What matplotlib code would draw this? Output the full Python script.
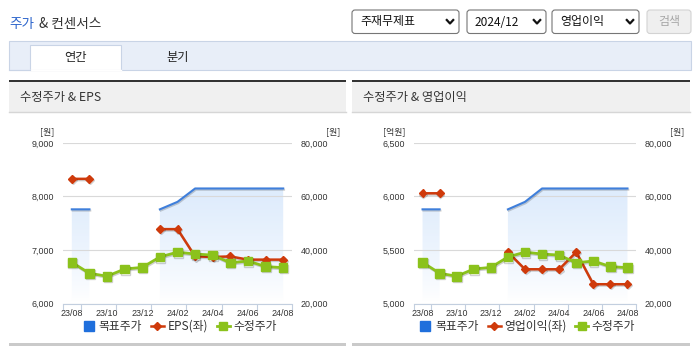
import numpy as np
import matplotlib
matplotlib.use('Agg')
import matplotlib.pyplot as plt
import matplotlib.patches as patches
import matplotlib.patheffects as pe
from matplotlib.lines import Line2D
from matplotlib.path import Path

plt.rcParams['font.family'] = ['Noto Sans CJK KR', 'DejaVu Sans']

# monthly data, 23/08 .. 24/08
months = ['23/08', '23/09', '23/10', '23/11', '23/12', '24/01', '24/02',
          '24/03', '24/04', '24/05', '24/06', '24/07', '24/08']
price = [35400, 31300, 30200, 32900, 33500, 37400, 39200,
         38500, 38100, 35200, 35900, 33800, 33400]
target = [55200, 55200, np.nan, np.nan, np.nan, 55200, 58000,
          63000, 63000, 63000, 63000, 63000, 63000]
eps = [8330, 8330, np.nan, np.nan, np.nan, 7390, 7390,
       6880, 6870, 6880, 6820, 6820, 6820]
op_profit = [6030, 6030, np.nan, np.nan, np.nan, 5480, 5320,
             5320, 5320, 5480, 5180, 5180, 5180]

eps_ticks = [6000, 7000, 8000, 9000]
op_ticks = [5000, 5500, 6000, 6500]
price_ticks = [20000, 40000, 60000, 80000]

BLUE = '#3F7FDB'
RED = '#CF3A0B'
GREEN = '#8BC21C'
NUM_FONT = 'Liberation Sans'

W, H = 695, 349
fig = plt.figure(figsize=(W / 100, H / 100), dpi=100)
bg = fig.add_axes([0, 0, 1, 1])
bg.set_xlim(0, W)
bg.set_ylim(H, 0)
bg.axis('off')


def box(x0, y0, x1, y1, fc, ec='none', lw=0, r=0):
    if r:
        p = patches.FancyBboxPatch((x0, y0), x1 - x0, y1 - y0,
                                   boxstyle='round,pad=0,rounding_size=%g' % r,
                                   fc=fc, ec=ec, lw=lw)
    else:
        p = patches.Rectangle((x0, y0), x1 - x0, y1 - y0, fc=fc, ec=ec, lw=lw)
    bg.add_patch(p)


# title
bg.text(9, 24, '주가', color='#2E66CC', fontsize=9.8, va='center')
bg.text(39, 24, '& 컨센서스', color='#333333', fontsize=9.8, va='center')

# selects + button
selects = [(352, 459, '주재무제표'), (467, 546, '2024/12'), (552, 639, '영업이익')]
for sx0, sx1, label in selects:
    box(sx0, 10, sx1, 33.5, 'white', '#767676', 0.8, r=3)
    bg.text(sx0 + 8, 22, label, fontsize=8.6, va='center', color='#111111')
    cx = sx1 - 9
    bg.plot([cx - 3.2, cx, cx + 3.2], [20, 23.5, 20], color='#111111', lw=1.6)
box(647, 10, 691, 33.5, '#EFEFEF', '#D3D3D3', 0.8, r=3)
bg.text(669, 22, '검색', fontsize=8.6, va='center', ha='center', color='#A6A6A6')

# tabs
box(9, 40.5, 691, 69.5, '#E8EEF8', '#C9D4E6', 0.8)
box(30, 45, 121, 69.5, 'white', '#C9D4E6', 0.8)
bg.plot([30.4, 120.6], [69.5, 69.5], color='white', lw=1)
bg.plot([9, 30], [69.5, 69.5], color='#C9D4E6', lw=0.8)
bg.text(75.5, 57.5, '연간', fontsize=8.8, ha='center', va='center', color='#222222')
bg.text(178, 57.5, '분기', fontsize=8.8, ha='center', va='center', color='#222222')


def chart(px0, px1, pan0, pan1, header, left_vals, left_ticks, left_name, left_unit):
    # panel frame
    box(pan0, 80, pan1, 82, '#333333')
    box(pan0, 82, pan1, 112, '#F0F0F0')
    bg.plot([pan0, pan1], [112.3, 112.3], color='#D6D6D6', lw=1)
    box(pan0, 343, pan1, 345.5, '#CACACA')
    bg.text(pan0 + 11, 97, header, fontsize=8.8, va='center', color='#333333')

    top, bot = 143, 303.5
    rect = [px0 / W, 1 - bot / H, (px1 - px0) / W, (bot - top) / H]
    x = np.arange(len(months))

    ax_t = fig.add_axes(rect)
    ax_e = ax_t.twinx()
    ax_p = ax_t.twinx()
    for a, z in ((ax_t, 1), (ax_e, 2), (ax_p, 3)):
        a.set_zorder(z)
        a.patch.set_visible(False)
        for s in a.spines.values():
            s.set_visible(False)
    ax_t.spines['bottom'].set_visible(True)
    ax_t.spines['bottom'].set_color('#C3CFDF')

    # target price: gradient area + line
    poly = ax_t.fill_between(x, target, 20000, facecolor='none', edgecolor='none')
    yy = np.linspace(20000, 80000, 300)
    alpha = np.clip((yy - 21000) / (60000 - 21000), 0, 1) ** 0.8 * 0.95
    grad = np.zeros((300, 2, 4))
    grad[..., 0] = 0.87
    grad[..., 1] = 0.925
    grad[..., 2] = 0.99
    grad[..., 3] = alpha[:, None]
    im = ax_t.imshow(grad, extent=[-0.5, 12.5, 20000, 80000], origin='lower',
                     aspect='auto', zorder=1, interpolation='bilinear')
    clip = patches.PathPatch(Path.make_compound_path(*poly.get_paths()),
                             transform=ax_t.transData, fc='none', ec='none')
    im.set_clip_path(clip)
    shadow = [pe.SimpleLineShadow(offset=(0.6, -0.9), alpha=0.18, shadow_color='k'), pe.Normal()]
    ax_t.plot(x, target, color=BLUE, lw=1.5, zorder=3, path_effects=shadow)

    ax_e.plot(x, left_vals, color=RED, lw=1.8, marker='D', ms=4.0, path_effects=shadow)
    ax_p.plot(x, price, color=GREEN, lw=2.0, marker='s', ms=6.2, path_effects=shadow)

    for a in (ax_t, ax_p):
        a.set_ylim(20000, 80000)
    ax_e.set_ylim(left_ticks[0], left_ticks[-1])
    for a in (ax_t, ax_e, ax_p):
        a.set_xlim(-0.5, 12.5)

    ax_t.set_yticks(price_ticks)
    ax_t.set_yticklabels(['{:,}'.format(v) for v in price_ticks],
                         fontfamily=NUM_FONT, fontsize=6.4, color='#333333')
    ax_t.yaxis.tick_right()
    ax_t.tick_params(axis='y', length=0, pad=6)
    ax_t.grid(axis='y', color='#D9D9D9', lw=0.8)

    ax_e.yaxis.tick_left()
    ax_e.set_yticks(left_ticks)
    ax_e.set_yticklabels(['{:,}'.format(v) for v in left_ticks],
                         fontfamily=NUM_FONT, fontsize=6.4, color='#333333')
    ax_e.tick_params(axis='y', length=0, pad=6.5)
    ax_p.set_yticks([])

    # tick marks on month boundaries, labels on every other month
    ax_t.set_xticks([-0.5] + list(np.arange(0.5, 13, 2)))
    ax_t.set_xticklabels([])
    ax_t.set_xticks(x[::2], minor=True)
    ax_t.set_xticklabels(months[::2], minor=True, fontfamily=NUM_FONT,
                         fontsize=6.4, color='#333333')
    ax_t.tick_params(axis='x', which='major', length=4.5, color='#C3CFDF', width=0.8)
    ax_t.tick_params(axis='x', which='minor', length=0, pad=4)

    # axis units
    bg.text(px0 - 9, 132, left_unit, fontsize=6.4, ha='right', va='center', color='#333333')
    bg.text(pan1 - 6, 132, '[원]', fontsize=6.4, ha='right', va='center', color='#333333')

    handles = [Line2D([], [], marker='s', ls='none', color='#1F6FDC', ms=7.5),
               Line2D([], [], color=RED, lw=1.8, marker='D', ms=4.0),
               Line2D([], [], color=GREEN, lw=2.0, marker='s', ms=6.2)]
    fig.legend(handles, ['목표주가', left_name, '수정주가'], loc='center',
               bbox_to_anchor=((px0 + px1) / 2 + 2, 326.5), bbox_transform=bg.transData,
               ncol=3, frameon=False, fontsize=8.5, handlelength=1.1,
               handletextpad=0.3, columnspacing=0.75, labelcolor='#333333',
               borderpad=0, borderaxespad=0)


chart(63, 292, 9, 346, '수정주가 & EPS', eps, eps_ticks, 'EPS(좌)', '[원]')
chart(414, 636, 352, 690, '수정주가 & 영업이익', op_profit, op_ticks, '영업이익(좌)', '[억원]')

fig.savefig('out.png', dpi=100)
